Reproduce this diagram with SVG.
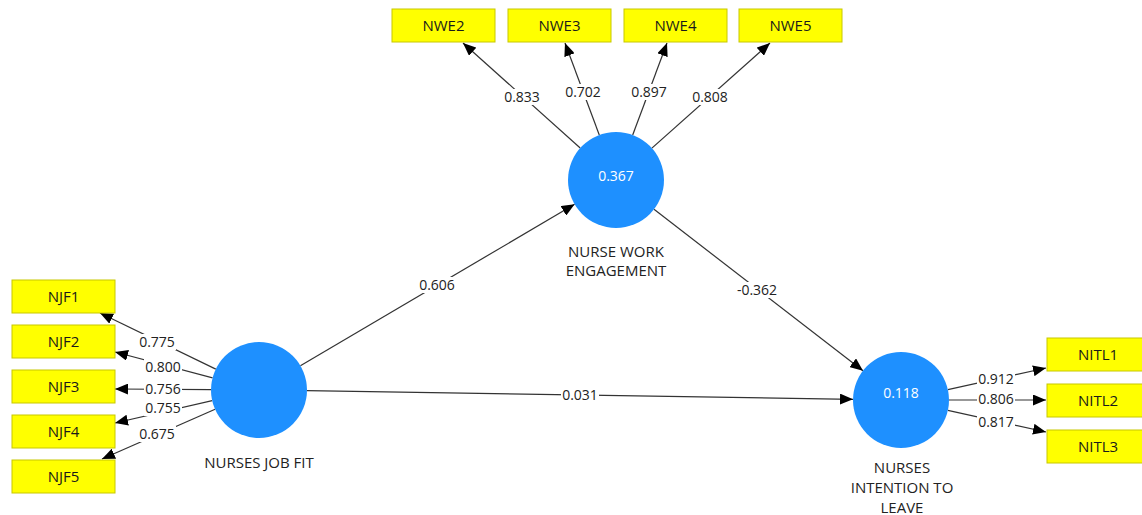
<svg xmlns="http://www.w3.org/2000/svg" width="1142" height="515" viewBox="0 0 1142 515">
<style>
.bg{fill:#ffffff}
.box{fill:#ffff00;stroke:#c8c800;stroke-width:1}
.bt{font-family:"Open Sans","Liberation Sans",sans-serif;font-size:15px;fill:#1a1a1a;text-anchor:middle}
.lv{fill:#1e90ff}
.lt{font-family:"Open Sans","Liberation Sans",sans-serif;font-size:14px;fill:#ffffff;text-anchor:middle}
.nm{font-family:"Open Sans","Liberation Sans",sans-serif;font-size:15px;fill:#222222;text-anchor:middle}
.ln{stroke:#333333;stroke-width:1.2;fill:none;marker-end:url(#ah)}
.lb{fill:#ffffff}
.lbt{font-family:"Open Sans","Liberation Sans",sans-serif;font-size:14px;fill:#222222;text-anchor:middle}
</style>
<defs>
<marker id="ah" markerUnits="userSpaceOnUse" markerWidth="13" markerHeight="11" refX="13" refY="5.5" orient="auto">
<path d="M0,0 L13,5.5 L0,11 z" fill="#000000"/>
</marker>
</defs>
<rect class="bg" x="0" y="0" width="1142" height="515"/>
<g id="connectors">
<line class="ln" x1="215.8" y1="369.1" x2="100" y2="313"/>
<line class="ln" x1="212.6" y1="377.8" x2="115" y2="352"/>
<line class="ln" x1="211" y1="389.7" x2="115" y2="389"/>
<line class="ln" x1="212.2" y1="400.7" x2="115" y2="423"/>
<line class="ln" x1="215.1" y1="409.3" x2="102" y2="459"/>
<line class="ln" x1="580.2" y1="148" x2="463" y2="43"/>
<line class="ln" x1="599.3" y1="135" x2="565" y2="43"/>
<line class="ln" x1="632.7" y1="135" x2="667" y2="43"/>
<line class="ln" x1="651.9" y1="148.1" x2="770" y2="43"/>
<line class="ln" x1="947.9" y1="389.7" x2="1046" y2="368"/>
<line class="ln" x1="949" y1="400" x2="1046" y2="400"/>
<line class="ln" x1="947.9" y1="410.3" x2="1046" y2="432"/>
<line class="ln" x1="300.4" y1="365.7" x2="574.6" y2="204.3"/>
<line class="ln" x1="654" y1="209.3" x2="863" y2="370.7"/>
<line class="ln" x1="307" y1="390.7" x2="853" y2="399.3"/>
<g id="labels">
<rect class="lb" x="138" y="334" width="38" height="16"/><text class="lbt" x="157" y="347">0.775</text>
<rect class="lb" x="144" y="359" width="38" height="16"/><text class="lbt" x="163" y="372">0.800</text>
<rect class="lb" x="144" y="381" width="38" height="16"/><text class="lbt" x="163" y="394">0.756</text>
<rect class="lb" x="144" y="400" width="38" height="16"/><text class="lbt" x="163" y="413">0.755</text>
<rect class="lb" x="138" y="426" width="38" height="16"/><text class="lbt" x="157" y="439">0.675</text>
<rect class="lb" x="503" y="89" width="38" height="16"/><text class="lbt" x="522" y="102">0.833</text>
<rect class="lb" x="564" y="84" width="38" height="16"/><text class="lbt" x="583" y="97">0.702</text>
<rect class="lb" x="630" y="84" width="38" height="16"/><text class="lbt" x="649" y="97">0.897</text>
<rect class="lb" x="691" y="89" width="38" height="16"/><text class="lbt" x="710" y="102">0.808</text>
<rect class="lb" x="977" y="371" width="38" height="16"/><text class="lbt" x="996" y="384">0.912</text>
<rect class="lb" x="977" y="391" width="38" height="16"/><text class="lbt" x="996" y="404">0.806</text>
<rect class="lb" x="977" y="414" width="38" height="16"/><text class="lbt" x="996" y="427">0.817</text>
<rect class="lb" x="418" y="277" width="38" height="16"/><text class="lbt" x="437" y="290">0.606</text>
<rect class="lb" x="735" y="282" width="44" height="16"/><text class="lbt" x="757" y="295">-0.362</text>
<rect class="lb" x="561" y="387" width="38" height="16"/><text class="lbt" x="580" y="400">0.031</text>
</g>
</g>
<g id="NJF">
<circle class="lv" cx="259" cy="390" r="48"/>
<text class="nm" x="259" y="468">NURSES JOB FIT</text>
</g>
<g id="NWE">
<circle class="lv" cx="616" cy="180" r="48"/>
<text class="lt" x="616" y="181">0.367</text>
<text class="nm" x="616" y="257">NURSE WORK</text>
<text class="nm" x="616" y="276">ENGAGEMENT</text>
</g>
<g id="NITL">
<circle class="lv" cx="901" cy="400" r="48"/>
<text class="lt" x="901" y="398">0.118</text>
<text class="nm" x="902" y="473">NURSES</text>
<text class="nm" x="902" y="493">INTENTION TO</text>
<text class="nm" x="902" y="513">LEAVE</text>
</g>
<g id="NJF1"><rect class="box" x="12" y="280" width="103" height="33"/><text class="bt" x="63.5" y="302">NJF1</text></g>
<g id="NJF2"><rect class="box" x="12" y="325" width="103" height="33"/><text class="bt" x="63.5" y="347">NJF2</text></g>
<g id="NJF3"><rect class="box" x="12" y="370" width="103" height="33"/><text class="bt" x="63.5" y="392">NJF3</text></g>
<g id="NJF4"><rect class="box" x="12" y="415" width="103" height="33"/><text class="bt" x="63.5" y="437">NJF4</text></g>
<g id="NJF5"><rect class="box" x="12" y="460" width="103" height="33"/><text class="bt" x="63.5" y="482">NJF5</text></g>
<g id="NWE2"><rect class="box" x="392" y="9" width="103" height="33"/><text class="bt" x="443.5" y="31">NWE2</text></g>
<g id="NWE3"><rect class="box" x="508" y="9" width="103" height="33"/><text class="bt" x="559.5" y="31">NWE3</text></g>
<g id="NWE4"><rect class="box" x="624" y="9" width="103" height="33"/><text class="bt" x="675.5" y="31">NWE4</text></g>
<g id="NWE5"><rect class="box" x="739" y="9" width="103" height="33"/><text class="bt" x="790.5" y="31">NWE5</text></g>
<g id="NITL1"><rect class="box" x="1047" y="338" width="103" height="33"/><text class="bt" x="1098" y="360">NITL1</text></g>
<g id="NITL2"><rect class="box" x="1047" y="384" width="103" height="33"/><text class="bt" x="1098" y="406">NITL2</text></g>
<g id="NITL3"><rect class="box" x="1047" y="430" width="103" height="33"/><text class="bt" x="1098" y="452">NITL3</text></g>
</svg>
